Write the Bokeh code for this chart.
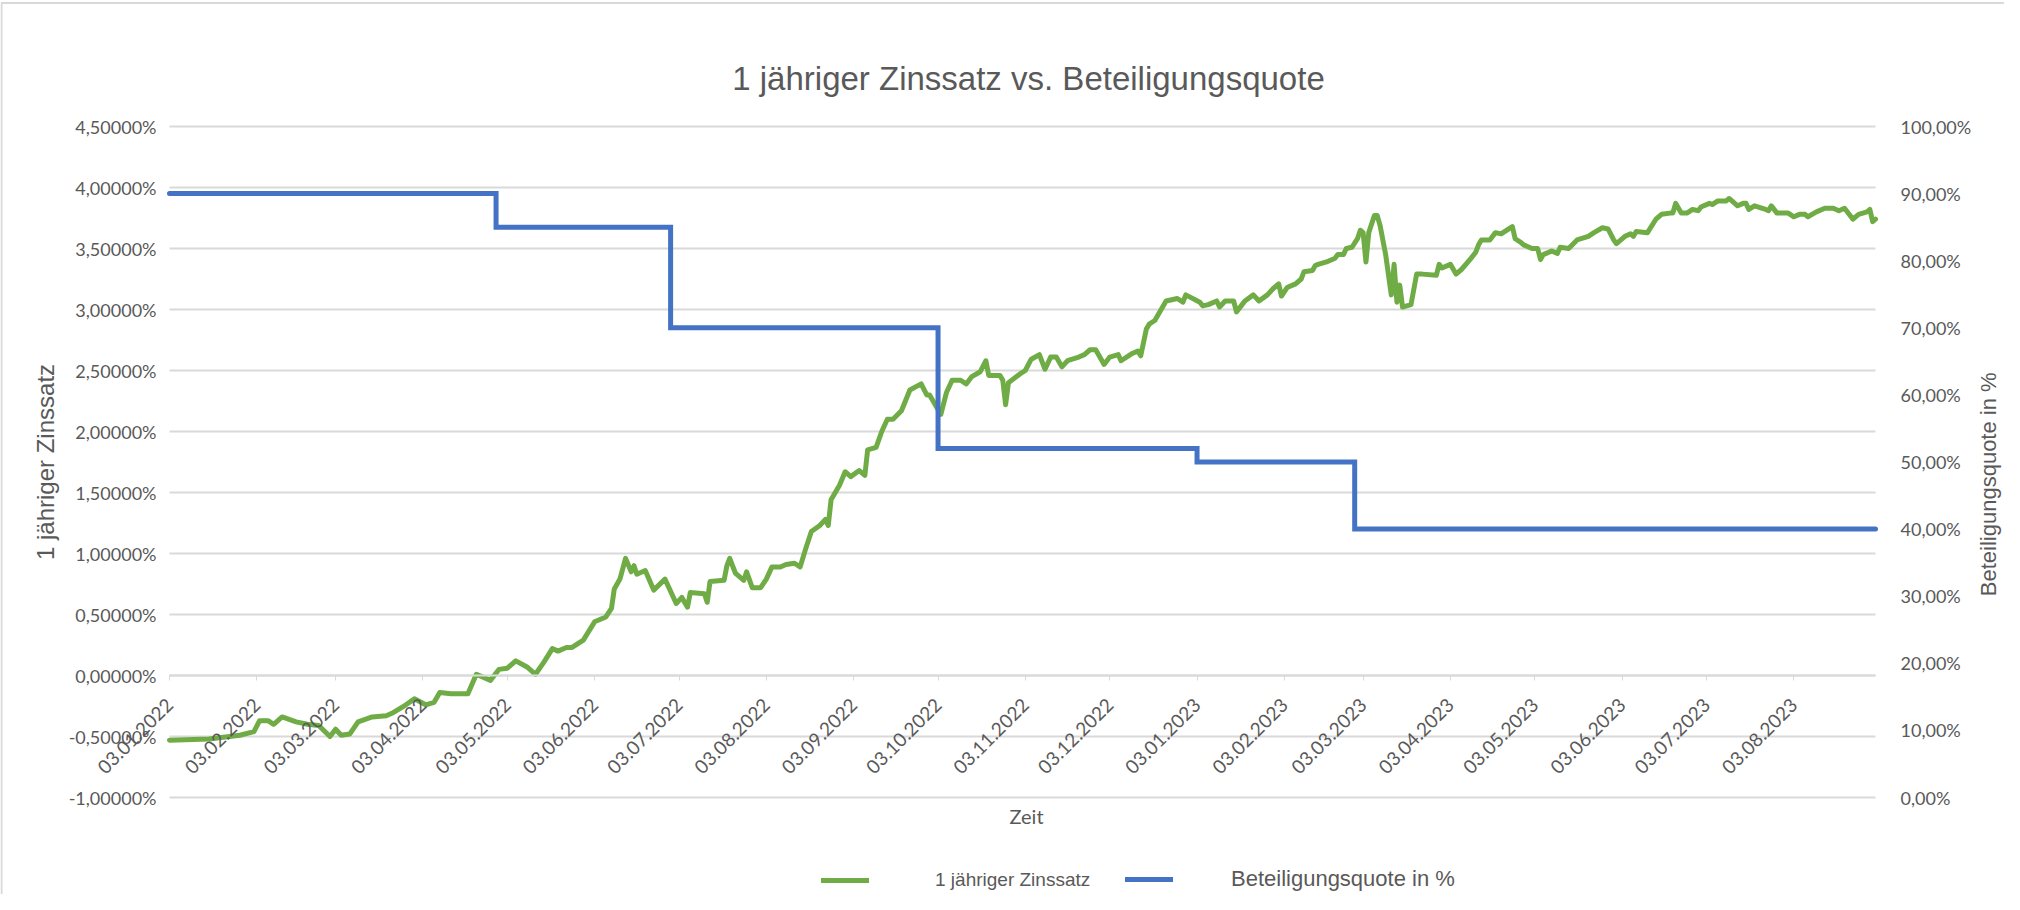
import math
from datetime import datetime
from bokeh.plotting import figure
from bokeh.models import (Range1d, LinearAxis, FixedTicker, DatetimeTickFormatter,
                          Legend, LegendItem, Label)
from bokeh.embed import file_html
from bokeh.resources import INLINE

# ---------------- data ----------------
zins_dates = [
    "2022-01-03", "2022-01-17", "2022-01-28", "2022-02-02", "2022-02-04", "2022-02-07", "2022-02-09", "2022-02-12",
    "2022-02-17", "2022-02-21", "2022-02-25", "2022-03-01", "2022-03-03", "2022-03-05", "2022-03-08", "2022-03-11",
    "2022-03-16", "2022-03-21", "2022-03-23", "2022-03-28", "2022-03-31", "2022-04-04", "2022-04-07", "2022-04-09",
    "2022-04-13", "2022-04-19", "2022-04-22", "2022-04-27", "2022-04-30", "2022-05-03", "2022-05-06", "2022-05-10",
    "2022-05-13", "2022-05-16", "2022-05-19", "2022-05-21", "2022-05-24", "2022-05-26", "2022-05-30", "2022-06-03",
    "2022-06-07", "2022-06-09", "2022-06-10", "2022-06-12", "2022-06-14", "2022-06-16", "2022-06-17", "2022-06-18",
    "2022-06-21", "2022-06-24", "2022-06-28", "2022-07-02", "2022-07-04", "2022-07-06", "2022-07-07", "2022-07-12",
    "2022-07-13", "2022-07-14", "2022-07-19", "2022-07-20", "2022-07-21", "2022-07-23", "2022-07-26", "2022-07-27",
    "2022-07-29", "2022-08-01", "2022-08-03", "2022-08-05", "2022-08-08", "2022-08-10", "2022-08-13", "2022-08-15",
    "2022-08-17", "2022-08-19", "2022-08-22", "2022-08-24", "2022-08-25", "2022-08-26", "2022-08-29", "2022-08-31",
    "2022-09-02", "2022-09-05", "2022-09-07", "2022-09-08", "2022-09-11", "2022-09-13", "2022-09-15", "2022-09-17",
    "2022-09-20", "2022-09-23", "2022-09-27", "2022-09-29", "2022-09-30", "2022-10-04", "2022-10-06", "2022-10-08",
    "2022-10-11", "2022-10-13", "2022-10-15", "2022-10-18", "2022-10-20", "2022-10-21", "2022-10-25", "2022-10-26",
    "2022-10-27", "2022-10-28", "2022-11-01", "2022-11-03", "2022-11-05", "2022-11-08", "2022-11-10", "2022-11-12",
    "2022-11-14", "2022-11-16", "2022-11-18", "2022-11-22", "2022-11-24", "2022-11-26", "2022-11-28", "2022-12-01",
    "2022-12-03", "2022-12-06", "2022-12-07", "2022-12-11", "2022-12-13", "2022-12-14", "2022-12-16", "2022-12-17",
    "2022-12-19", "2022-12-21", "2022-12-23", "2022-12-27", "2022-12-29", "2022-12-30", "2023-01-04", "2023-01-05",
    "2023-01-07", "2023-01-10", "2023-01-11", "2023-01-13", "2023-01-16", "2023-01-17", "2023-01-19", "2023-01-20",
    "2023-01-23", "2023-01-25", "2023-01-28", "2023-01-30", "2023-02-01", "2023-02-02", "2023-02-04", "2023-02-07",
    "2023-02-09", "2023-02-10", "2023-02-13", "2023-02-14", "2023-02-15", "2023-02-18", "2023-02-21", "2023-02-22",
    "2023-02-24", "2023-02-25", "2023-02-27", "2023-03-01", "2023-03-02", "2023-03-03", "2023-03-04", "2023-03-05",
    "2023-03-07", "2023-03-08", "2023-03-09", "2023-03-11", "2023-03-13", "2023-03-14", "2023-03-15", "2023-03-16",
    "2023-03-17", "2023-03-20", "2023-03-22", "2023-03-24", "2023-03-29", "2023-03-30", "2023-03-31", "2023-04-03",
    "2023-04-05", "2023-04-07", "2023-04-10", "2023-04-12", "2023-04-13", "2023-04-14", "2023-04-17", "2023-04-19",
    "2023-04-21", "2023-04-25", "2023-04-26", "2023-04-28", "2023-04-29", "2023-05-02", "2023-05-04", "2023-05-05",
    "2023-05-06", "2023-05-09", "2023-05-11", "2023-05-12", "2023-05-15", "2023-05-18", "2023-05-22", "2023-05-24",
    "2023-05-27", "2023-05-29", "2023-05-31", "2023-06-01", "2023-06-04", "2023-06-06", "2023-06-07", "2023-06-08",
    "2023-06-12", "2023-06-15", "2023-06-17", "2023-06-20", "2023-06-21", "2023-06-22", "2023-06-24", "2023-06-26",
    "2023-06-28", "2023-06-30", "2023-07-01", "2023-07-04", "2023-07-05", "2023-07-07", "2023-07-10", "2023-07-11",
    "2023-07-14", "2023-07-16", "2023-07-17", "2023-07-18", "2023-07-20", "2023-07-24", "2023-07-25", "2023-07-26",
    "2023-07-28", "2023-08-01", "2023-08-03", "2023-08-05", "2023-08-07", "2023-08-08", "2023-08-11", "2023-08-14",
    "2023-08-17", "2023-08-19", "2023-08-21", "2023-08-24", "2023-08-26", "2023-08-29", "2023-08-30", "2023-08-31",
    "2023-09-01",
]
zins_values = [
    -0.53, -0.52, -0.49, -0.46, -0.37, -0.37, -0.40, -0.34,
    -0.38, -0.40, -0.41, -0.50, -0.44, -0.49, -0.48, -0.38,
    -0.34, -0.33, -0.31, -0.24, -0.19, -0.24, -0.22, -0.14,
    -0.15, -0.15, 0.01, -0.04, 0.05, 0.06, 0.12, 0.07,
    0.01, 0.11, 0.22, 0.20, 0.23, 0.23, 0.29, 0.44,
    0.48, 0.55, 0.71, 0.79, 0.96, 0.85, 0.90, 0.83,
    0.86, 0.70, 0.79, 0.59, 0.64, 0.56, 0.68, 0.67,
    0.60, 0.77, 0.78, 0.90, 0.96, 0.84, 0.78, 0.85,
    0.72, 0.72, 0.79, 0.89, 0.89, 0.91, 0.92, 0.89,
    1.04, 1.18, 1.23, 1.28, 1.23, 1.44, 1.56, 1.67,
    1.63, 1.68, 1.64, 1.85, 1.87, 2.00, 2.10, 2.10,
    2.17, 2.34, 2.39, 2.30, 2.30, 2.14, 2.32, 2.42,
    2.42, 2.39, 2.45, 2.49, 2.58, 2.46, 2.46, 2.42,
    2.22, 2.40, 2.47, 2.50, 2.59, 2.63, 2.51, 2.61,
    2.61, 2.53, 2.58, 2.61, 2.63, 2.67, 2.67, 2.55,
    2.61, 2.63, 2.58, 2.64, 2.66, 2.62, 2.84, 2.88,
    2.91, 2.99, 3.07, 3.09, 3.06, 3.12, 3.06, 3.03,
    3.04, 3.07, 3.02, 3.07, 3.07, 2.98, 3.04, 3.07,
    3.12, 3.07, 3.12, 3.17, 3.21, 3.11, 3.18, 3.21,
    3.25, 3.31, 3.32, 3.36, 3.37, 3.39, 3.42, 3.45,
    3.45, 3.50, 3.51, 3.58, 3.65, 3.63, 3.39, 3.63,
    3.77, 3.77, 3.69, 3.45, 3.12, 3.37, 3.06, 3.20,
    3.02, 3.04, 3.29, 3.29, 3.28, 3.37, 3.34, 3.37,
    3.29, 3.33, 3.41, 3.47, 3.53, 3.57, 3.57, 3.63,
    3.62, 3.68, 3.58, 3.55, 3.53, 3.50, 3.50, 3.41,
    3.45, 3.48, 3.46, 3.51, 3.50, 3.57, 3.60, 3.63,
    3.67, 3.66, 3.57, 3.54, 3.60, 3.62, 3.60, 3.64,
    3.63, 3.74, 3.78, 3.79, 3.79, 3.87, 3.79, 3.79,
    3.82, 3.81, 3.84, 3.87, 3.86, 3.89, 3.89, 3.91,
    3.85, 3.87, 3.87, 3.82, 3.85, 3.82, 3.81, 3.85,
    3.79, 3.79, 3.76, 3.78, 3.78, 3.76, 3.80, 3.83,
    3.83, 3.81, 3.83, 3.74, 3.78, 3.80, 3.82, 3.72,
    3.74,
]

quote_dates = ["2022-01-03", "2022-04-29", "2022-06-30", "2022-10-03", "2023-01-03", "2023-02-28", "2023-09-01"]
quote_values = [90, 85, 70, 52, 50, 40, 40]

x_tick_dates = ["2022-01-03", "2022-02-03", "2022-03-03", "2022-04-03", "2022-05-03", "2022-06-03",
                "2022-07-03", "2022-08-03", "2022-09-03", "2022-10-03", "2022-11-03", "2022-12-03",
                "2023-01-03", "2023-02-03", "2023-03-03", "2023-04-03", "2023-05-03", "2023-06-03",
                "2023-07-03", "2023-08-03"]

left_ticks = [-1.0, -0.5, 0.0, 0.5, 1.0, 1.5, 2.0, 2.5, 3.0, 3.5, 4.0, 4.5]
left_labels = ["-1,00000%", "-0,50000%", "0,00000%", "0,50000%", "1,00000%", "1,50000%",
               "2,00000%", "2,50000%", "3,00000%", "3,50000%", "4,00000%", "4,50000%"]
right_ticks = [0, 10, 20, 30, 40, 50, 60, 70, 80, 90, 100]
right_labels = ["0,00%", "10,00%", "20,00%", "30,00%", "40,00%", "50,00%",
                "60,00%", "70,00%", "80,00%", "90,00%", "100,00%"]

title_text = "1 jähriger Zinssatz vs. Beteiligungsquote"
left_title = "1 jähriger Zinssatz"
right_title = "Beteiligungsquote in %"
x_title = "Zeit"
series_names = ["1 jähriger Zinssatz", "Beteiligungsquote in %"]

# ---------------- layout constants (pixels inside the figure) ----------------
FIG_W, FIG_H = 2004, 894
PL, PR, PT, PB = 169, 1875, 126, 797   # plot area: left, right, top, bottom

EPOCH = datetime(1970, 1, 1)


def ms(s):
    return (datetime.strptime(s, "%Y-%m-%d") - EPOCH).total_seconds() * 1000.0


GREEN = "#6fac46"
BLUE = "#4472c4"
GRID = "#d9d9d9"
TXT = "#595959"

x0, x1 = ms(zins_dates[0]), ms(zins_dates[-1])
kx = (x1 - x0) / (PR - PL)
xr = Range1d(x0 - PL * kx, x1 + (FIG_W - PR) * kx)
y_lo, y_hi = left_ticks[0], left_ticks[-1]
ky = (y_hi - y_lo) / (PB - PT)
yr = Range1d(y_lo - (FIG_H - PB) * ky, y_hi + PT * ky)
r_lo, r_hi = right_ticks[0], right_ticks[-1]
kr = (r_hi - r_lo) / (PB - PT)
rr = Range1d(r_lo - (FIG_H - PB) * kr, r_hi + PT * kr)


def px_x(px):
    return xr.start + px * kx


def px_y(py):
    return yr.end - py * ky


p = figure(width=FIG_W, height=FIG_H, output_backend="svg", toolbar_location=None,
           x_axis_type="datetime", x_range=xr, y_range=yr,
           min_border=0, min_border_left=0, min_border_right=0, min_border_top=0, min_border_bottom=0,
           background_fill_color="white", border_fill_color="white")
p.outline_line_color = None
p.title.text = ""
p.title.visible = False
p.extra_y_ranges = {"quote": rr}
p.xgrid.visible = False
p.ygrid.visible = False

# chart border (left and top edge, like the Excel chart area)
p.line([px_x(1), px_x(1), px_x(FIG_W + 10)], [px_y(FIG_H + 10), px_y(2.5), px_y(2.5)],
       line_color=GRID, line_width=2)

# horizontal gridlines at the left-axis ticks
n = len(left_ticks)
p.segment(x0=[x0] * n, y0=left_ticks, x1=[x1] * n, y1=left_ticks, line_color=GRID, line_width=2)

# series
green = p.line([ms(s) for s in zins_dates], zins_values, line_color=GREEN, line_width=5,
               line_join="round", line_cap="round")
blue = p.step([ms(s) for s in quote_dates], quote_values, mode="after", y_range_name="quote",
              line_color=BLUE, line_width=5, line_join="miter", line_cap="round")

# left axis
ya = p.yaxis[0]
ya.fixed_location = x0
ya.bounds = (y_lo, y_hi)
ya.ticker = FixedTicker(ticks=left_ticks)
ya.major_label_overrides = dict(zip(left_ticks, left_labels))
ya.axis_line_color = None
ya.major_tick_line_color = None
ya.minor_tick_line_color = None
ya.major_tick_out = 0
ya.major_tick_in = 0
ya.major_label_standoff = 13
ya.major_label_text_font = "Lato"
ya.major_label_text_font_size = "18px"
ya.major_label_text_color = TXT
ya.axis_label = left_title
ya.axis_label_text_font = "Liberation Sans"
ya.axis_label_text_font_size = "24px"
ya.axis_label_text_font_style = "normal"
ya.axis_label_text_color = TXT
ya.axis_label_standoff = 7

# right axis (values)
ra = LinearAxis(y_range_name="quote", ticker=FixedTicker(ticks=right_ticks), fixed_location=x1,
                bounds=(r_lo, r_hi))
ra.major_label_overrides = dict(zip(right_ticks, right_labels))
ra.axis_line_color = None
ra.major_tick_line_color = None
ra.minor_tick_line_color = None
ra.major_tick_out = 0
ra.major_tick_in = 0
ra.major_label_standoff = 25
ra.major_label_text_font = "Lato"
ra.major_label_text_font_size = "18px"
ra.major_label_text_color = TXT
p.add_layout(ra, "right")

# right axis title, reading bottom to top
rt_anchor = 30
rt = LinearAxis(y_range_name="quote", ticker=FixedTicker(ticks=[rt_anchor]), fixed_location=x1)
rt.major_label_overrides = {rt_anchor: right_title}
rt.major_label_orientation = math.pi / 2
rt.axis_line_color = None
rt.major_tick_line_color = None
rt.minor_tick_line_color = None
rt.major_tick_out = 0
rt.major_tick_in = 0
rt.major_label_standoff = 113
rt.major_label_text_font = "Liberation Sans"
rt.major_label_text_font_size = "22px"
rt.major_label_text_color = TXT
p.add_layout(rt, "right")

# x axis crossing at 0
fmt = "%d.%m.%Y"
xa = p.xaxis[0]
xa.fixed_location = 0
xa.bounds = (x0, x1)
xa.ticker = FixedTicker(ticks=[ms(s) for s in x_tick_dates])
xa.formatter = DatetimeTickFormatter(microseconds=fmt, milliseconds=fmt, seconds=fmt, minsec=fmt,
                                     minutes=fmt, hourmin=fmt, hours=fmt, days=fmt, months=fmt, years=fmt)
xa.major_label_orientation = math.pi / 4
xa.axis_line_color = GRID
xa.axis_line_width = 2
xa.major_tick_line_color = GRID
xa.major_tick_line_width = 1
xa.major_tick_in = 0
xa.major_tick_out = 5
xa.minor_tick_line_color = None
xa.major_label_standoff = 21
xa.major_label_text_font = "Lato"
xa.major_label_text_font_size = "19px"
xa.major_label_text_color = TXT

# title and "Zeit"
p.add_layout(Label(x=px_x(1028), y=px_y(78), text=title_text, text_align="center",
                   text_baseline="middle", text_font="Liberation Sans", text_font_size="33px",
                   text_color=TXT))
p.add_layout(Label(x=px_x(1026), y=px_y(815), text=x_title, text_align="center",
                   text_baseline="middle", text_font="Lato", text_font_size="20px", text_color=TXT))

# legend (two entries, placed separately)
common = dict(orientation="horizontal", glyph_width=48, glyph_height=24, label_height=24,
              padding=0, margin=0, border_line_color=None, background_fill_alpha=0,
              label_text_font="Liberation Sans", label_text_color=TXT)
leg1 = Legend(items=[LegendItem(label=series_names[0], renderers=[green])],
              location=(821, 2), label_standoff=66, label_text_font_size="19px", **common)
leg2 = Legend(items=[LegendItem(label=series_names[1], renderers=[blue])],
              location=(1125, 2), label_standoff=58, label_text_font_size="22px", **common)
p.add_layout(leg1)
p.add_layout(leg2)

open("out.html", "w").write(file_html(p, INLINE))
